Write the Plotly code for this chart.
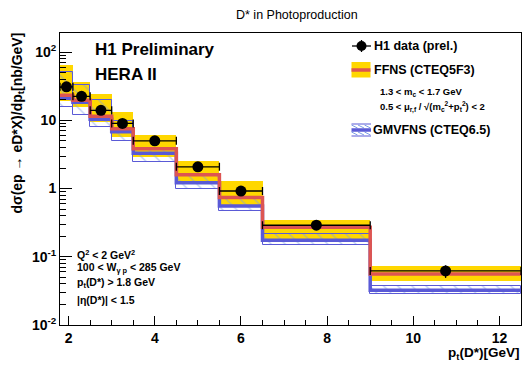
import plotly.graph_objects as go

# ---------------- data ----------------
edges = [1.8, 2.1, 2.5, 3.0, 3.5, 4.5, 5.5, 6.5, 9.0, 12.5]
pt_data = [1.95, 2.3, 2.75, 3.25, 4.0, 5.0, 6.0, 7.75, 10.75]
xsec_data = [31, 22.5, 14, 9.0, 5.0, 2.08, 0.92, 0.29, 0.062]
xsec_err = [2.5, 1.8, 1.1, 0.7, 0.35, 0.15, 0.07, 0.025, 0.013]
ffns_c = [23.3, 19.7, 11.5, 7.54, 3.84, 1.60, 0.741, 0.270, 0.0558]
ffns_up = [65, 37, 24.1, 13.1, 6.06, 2.52, 1.28, 0.345, 0.0731]
ffns_lo = [19.1, 15.6, 9.4, 5.66, 2.89, 1.28, 0.572, 0.182, 0.0446]
gmv_c = [21.1, 18.4, 10.4, 6.81, 3.30, 1.22, 0.553, 0.174, 0.0322]
gmv_up = [51, 33.2, 19.7, 9.8, 3.9, 1.55, 0.70, 0.215, 0.0379]
gmv_lo = [15.8, 11.9, 8.0, 5.03, 2.48, 1.0, 0.468, 0.150, 0.0284]
ytick_vals = [0.01, 0.1, 1, 10, 100]
ytick_text = ["10<sup>-2</sup>", "10<sup>-1</sup>", "1", "10", "10<sup>2</sup>"]
yminor_vals = [k * 10.0 ** e for e in range(-2, 3) for k in range(2, 10)]

YELLOW = "#ffd700"
RED = "#dd5552"
BLUE = "#5a5ad6"
HATCH = "#7c9ce6"
FONT = "Liberation Sans"

centers = [(a + b) / 2 for a, b in zip(edges[:-1], edges[1:])]
widths = [b - a for a, b in zip(edges[:-1], edges[1:])]

fig = go.Figure()

# FFNS yellow band
fig.add_trace(go.Bar(
    x=centers, y=[u - l for u, l in zip(ffns_up, ffns_lo)], base=ffns_lo,
    width=widths, marker=dict(color=YELLOW, line=dict(width=0)),
    showlegend=False, hoverinfo="skip"))

# GMVFNS hatched band
fig.add_trace(go.Bar(
    x=centers, y=[u - l for u, l in zip(gmv_up, gmv_lo)], base=gmv_lo,
    width=widths,
    marker=dict(color="rgba(0,0,0,0)",
                line=dict(color=BLUE, width=1),
                pattern=dict(shape="\\", fgcolor=HATCH, bgcolor="rgba(0,0,0,0)",
                             size=10, solidity=0.14)),
    showlegend=False, hoverinfo="skip"))

# GMVFNS central
fig.add_trace(go.Scatter(
    x=edges, y=gmv_c + [gmv_c[-1]], mode="lines", line_shape="hv",
    line=dict(color=BLUE, width=3.5), showlegend=False, hoverinfo="skip"))

# FFNS central
fig.add_trace(go.Scatter(
    x=edges, y=ffns_c + [ffns_c[-1]], mode="lines", line_shape="hv",
    line=dict(color=RED, width=3.5), showlegend=False, hoverinfo="skip"))

# Data
fig.add_trace(go.Scatter(
    x=pt_data, y=xsec_data, mode="markers",
    marker=dict(color="black", size=11, symbol="circle"),
    error_x=dict(type="data", symmetric=False,
                 array=[b - p for b, p in zip(edges[1:], pt_data)],
                 arrayminus=[p - a for a, p in zip(edges[:-1], pt_data)],
                 color="black", thickness=1.3, width=4),
    error_y=dict(type="data", array=xsec_err, color="black", thickness=1.3, width=0),
    showlegend=False, hoverinfo="skip"))

# empty trace carrying the minor-tick axis
fig.add_trace(go.Scatter(x=[], y=[], yaxis="y2", showlegend=False, hoverinfo="skip"))

W, H = 531, 370
L, R, T, B = 60, 10, 33, 45


def px(x):
    return (x - L) / (W - L - R)


def py(y):
    return (H - B - y) / (H - T - B)


ann = []


def text(x, y, s, size, xanchor="left", bold=True, **kw):
    ann.append(dict(x=px(x), y=py(y), xref="paper", yref="paper", text=s,
                    showarrow=False, xanchor=xanchor, yanchor="middle",
                    font=dict(family=FONT, size=size, color="black",
                              weight="bold" if bold else "normal"), **kw))


text(297, 15, "D* in Photoproduction", 12.5, xanchor="center", bold=False)
text(93, 49, "H1 Preliminary", 17)
text(93, 74, "HERA II", 17)
text(372, 46, "H1 data (prel.)", 12.5)
text(372, 70, "FFNS (CTEQ5F3)", 12.5)
text(378, 92, "1.3 &lt; m<sub>c</sub> &lt; 1.7 GeV", 9.5)
text(378, 107, "0.5 &lt; μ<sub>r,f</sub> / √(m<sub>c</sub><sup>2</sup>+p<sub>t</sub><sup>2</sup>) &lt; 2", 9.5)
text(371, 130, "GMVFNS (CTEQ6.5)", 12.5)
text(75, 254, "Q<sup>2</sup> &lt; 2 GeV<sup>2</sup>", 10.5)
text(75, 268, "100 &lt; W<sub>γ p</sub> &lt; 285 GeV", 10.5)
text(75, 283, "p<sub>t</sub>(D*) &gt; 1.8 GeV", 10.5)
text(75, 300, "|η(D*)| &lt; 1.5", 10.5)
text(521, 353, "p<sub>t</sub>(D*)[GeV]", 13.5, xanchor="right")

ann.append(dict(x=px(17), y=py(31), xref="paper", yref="paper",
                text="dσ(ep → eD*X)/dp<sub>t</sub>[nb/GeV]", textangle=-90,
                showarrow=False, xanchor="center", yanchor="top",
                font=dict(family=FONT, size=14, color="black", weight="bold")))

shapes = []
# legend: data symbol
shapes.append(dict(type="line", xref="paper", yref="paper",
                   x0=px(352), x1=px(371), y0=py(46), y1=py(46),
                   line=dict(color="black", width=1.3)))
shapes.append(dict(type="line", xref="paper", yref="paper",
                   x0=px(361.5), x1=px(361.5), y0=py(40), y1=py(52),
                   line=dict(color="black", width=1.3)))
shapes.append(dict(type="circle", xref="paper", yref="paper",
                   x0=px(356.5), x1=px(366.5), y0=py(41), y1=py(51),
                   fillcolor="black", line=dict(color="black", width=0)))
# legend: FFNS symbol
shapes.append(dict(type="rect", xref="paper", yref="paper",
                   x0=px(351.5), x1=px(370.5), y0=py(62), y1=py(77.5),
                   fillcolor=YELLOW, line=dict(width=0)))
shapes.append(dict(type="line", xref="paper", yref="paper",
                   x0=px(351.5), x1=px(370.5), y0=py(70), y1=py(70),
                   line=dict(color=RED, width=3.5)))
# legend: GMVFNS symbol
for yy in (124, 136):
    shapes.append(dict(type="line", xref="paper", yref="paper",
                       x0=px(351.5), x1=px(371), y0=py(yy), y1=py(yy),
                       line=dict(color=BLUE, width=1)))
for xs in (351.5, 358, 364.5):
    shapes.append(dict(type="line", xref="paper", yref="paper",
                       x0=px(xs), x1=px(xs + 6), y0=py(125), y1=py(128),
                       line=dict(color=HATCH, width=1)))
    shapes.append(dict(type="line", xref="paper", yref="paper",
                       x0=px(xs), x1=px(xs + 6), y0=py(132), y1=py(135),
                       line=dict(color=HATCH, width=1)))
shapes.append(dict(type="line", xref="paper", yref="paper",
                   x0=px(351.5), x1=px(371), y0=py(130), y1=py(130),
                   line=dict(color=BLUE, width=3.5)))

fig.update_layout(
    width=W, height=H,
    margin=dict(l=L, r=R, t=T, b=B, pad=0),
    paper_bgcolor="white", plot_bgcolor="white",
    barmode="overlay", bargap=0,
    font=dict(family=FONT, size=14, color="black", weight="bold"),
    annotations=ann, shapes=shapes, showlegend=False,
    xaxis=dict(range=[1.8, 12.5], tick0=0, dtick=2, ticks="inside", ticklen=9,
               tickcolor="black", showline=True, mirror=True, linecolor="black",
               linewidth=1, showgrid=False, zeroline=False,
               tickfont=dict(family=FONT, size=14, weight="bold"),
               minor=dict(dtick=0.5, ticks="inside", ticklen=5, tickcolor="black",
                          showgrid=False)),
    yaxis=dict(type="log", range=[-2, 2.28], tickvals=ytick_vals, ticktext=ytick_text,
               ticks="inside", ticklen=12, tickcolor="black", showline=True,
               mirror=True, linecolor="black", linewidth=1, showgrid=False,
               zeroline=False, tickfont=dict(family=FONT, size=14, weight="bold")),
    yaxis2=dict(type="log", range=[-2, 2.28], overlaying="y", side="left",
                anchor="x", tickvals=yminor_vals, ticks="inside", ticklen=6,
                tickcolor="black", showticklabels=False, showgrid=False,
                zeroline=False, showline=False),
)

fig.write_html("out.html", config={"displayModeBar": False},
               post_script="document.body.style.margin='0px';")
